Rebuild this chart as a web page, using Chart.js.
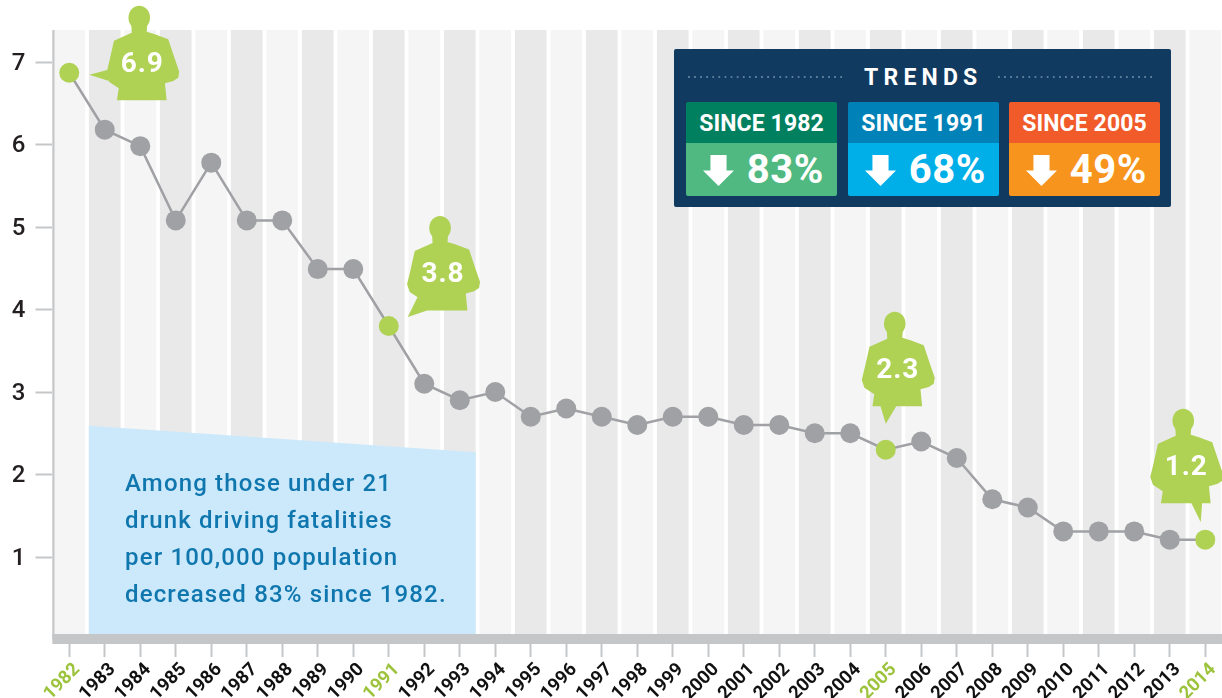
<!DOCTYPE html>
<html>
<head>
<meta charset="utf-8">
<title>Under 21 drunk driving fatalities</title>
<script src="https://cdn.jsdelivr.net/npm/chart.js@4"></script>
<style>
    html, body { margin: 0; padding: 0; background: #fff; overflow: hidden; width: 1222px; height: 698px; }
    body { position: relative; font-family: Roboto, sans-serif; }
    canvas { position: absolute; left: 0; top: 0; }

    .note { position: absolute; left: 125px; top: 465px; color: #0f76ae; font-size: 24px; font-weight: 500; letter-spacing: 1.15px; line-height: 37px; white-space: nowrap; }

    .panel { position: absolute; left: 674px; top: 49px; width: 497px; height: 158px; background: #103a60; border-radius: 2px; }
    .panel-title { position: absolute; left: 190px; width: 114px; top: 14px; color: #fff; font-size: 23px; font-weight: 700; letter-spacing: 5.2px; line-height: 30px; white-space: nowrap; }
    .dots { position: absolute; top: 27px; width: 158px; height: 2px; background: radial-gradient(circle at 1px 1px, #5d7f9c 1px, transparent 1.2px) 0 0 / 6.1px 2px repeat-x; }
    .trend { position: absolute; top: 53px; width: 151px; height: 94px; border-radius: 2px; color: #fff; }
    .trend-head { height: 41px; line-height: 43px; text-align: center; font-size: 23px; font-weight: 700; letter-spacing: 0.1px; border-radius: 2px 2px 0 0; }
    .trend-body { position: relative; height: 53px; border-radius: 0 0 2px 2px; }
    .trend-body b { position: absolute; right: 13px; top: 4px; font-size: 40px; line-height: 46px; font-weight: 700; letter-spacing: 0.6px; }
    .arrow { position: absolute; left: 17px; top: 12px; width: 31px; height: 31px; background: #fff; clip-path: polygon(24% 0, 76% 0, 76% 50%, 100% 50%, 50% 100%, 0 50%, 24% 50%); }
</style>
</head>
<body>
<canvas id="chart" width="1223" height="698"></canvas>

<div class="note">Among those under 21<br>drunk driving fatalities<br>per 100,000 population<br>decreased 83% since 1982.</div>

<div class="panel">
    <div class="dots" style="left:14px"></div>
    <div class="panel-title">TRENDS</div>
    <div class="dots" style="left:324px"></div>
    <div class="trend" style="left:12px">
        <div class="trend-head" style="background:#00805f">SINCE 1982</div>
        <div class="trend-body" style="background:#50b981"><span class="arrow"></span><b>83%</b></div>
    </div>
    <div class="trend" style="left:174px">
        <div class="trend-head" style="background:#0082b8">SINCE 1991</div>
        <div class="trend-body" style="background:#00aee8"><span class="arrow"></span><b>68%</b></div>
    </div>
    <div class="trend" style="left:335px">
        <div class="trend-head" style="background:#f15a29">SINCE 2005</div>
        <div class="trend-body" style="background:#f7941e"><span class="arrow"></span><b>49%</b></div>
    </div>
</div>

<script>
// Data
const years = ['1982', '1983', '1984', '1985', '1986', '1987', '1988', '1989', '1990', '1991', '1992',
    '1993', '1994', '1995', '1996', '1997', '1998', '1999', '2000', '2001', '2002', '2003', '2004',
    '2005', '2006', '2007', '2008', '2009', '2010', '2011', '2012', '2013', '2014'];
const fatalities = [6.87, 6.18, 5.98, 5.08, 5.78, 5.08, 5.08, 4.49, 4.49, 3.8, 3.1,
    2.9, 3.0, 2.7, 2.8, 2.7, 2.6, 2.7, 2.7, 2.6, 2.6, 2.5, 2.5,
    2.3, 2.4, 2.2, 1.7, 1.6, 1.31, 1.31, 1.31, 1.21, 1.21];
const yTicks = [1, 2, 3, 4, 5, 6, 7];
const highlightYears = ['1982', '1991', '2005', '2014'];
const highlightLabels = ['6.9', '3.8', '2.3', '1.2'];

const Y_TOP = 7.388;
const bandTops = years.map(() => Y_TOP);

// Colours
const GREY = '#a0a1a5';
const GREEN = '#afd255';
const AXIS = '#c5c6c8';

// Where each silhouette sits relative to its point, and where its tail meets the body
const figures = [
    { dx: 70, dy: -65, tip: [20, 2], base: [[-31, 62], [-31, 73]] },
    { dx: 51.3, dy: -108, tip: [19, -9], base: [[-22, 78], [-13, 92.5]] },
    { dx: 9, dy: -136, tip: [0, -26], base: [[-15, 90], [3, 90]] },
    { dx: -22, dy: -129, tip: [-4.5, -17.5], base: [[7, 90], [19, 90]] }
];

// Body outline, measured from the top centre of the head
const bodyOutline = [[8, 16], [7.5, 24], [15.7, 26.6], [29, 31.6], [35.7, 51.6], [40, 64], [39, 70], [34, 73.3],
    [25.7, 75.6], [27.4, 92.6], [-22.3, 92.6], [-20.5, 80.6], [-30.3, 74], [-33, 66.3], [-29.6, 52.3],
    [-25.3, 33], [-7.5, 25], [-8, 16]];

function drawFigure(ctx, px, py, fig, label) {
    const x = px + fig.dx;
    const y = py + fig.dy;
    ctx.save();
    ctx.fillStyle = GREEN;

    // head
    ctx.beginPath();
    ctx.ellipse(x, y + 10, 10.8, 12, 0, 0, Math.PI * 2);
    ctx.fill();

    // body
    ctx.beginPath();
    bodyOutline.forEach((p, i) => {
        if (i === 0) ctx.moveTo(x + p[0], y + p[1]);
        else ctx.lineTo(x + p[0], y + p[1]);
    });
    ctx.closePath();
    ctx.fill();

    // tail pointing at the data point
    ctx.beginPath();
    ctx.moveTo(x + fig.base[0][0], y + fig.base[0][1]);
    ctx.lineTo(px + fig.tip[0], py + fig.tip[1]);
    ctx.lineTo(x + fig.base[1][0], y + fig.base[1][1]);
    ctx.closePath();
    ctx.fill();

    ctx.fillStyle = '#fff';
    ctx.font = '700 28px Roboto';
    ctx.letterSpacing = '1px';
    ctx.textAlign = 'center';
    ctx.textBaseline = 'middle';
    ctx.fillText(label, x + 3, y + 57);
    ctx.restore();
}

// Light blue note shape, drawn right after the bands
const noteShapePlugin = {
    id: 'noteShape',
    afterDatasetDraw(chart, args) {
        if (args.index !== 1) return;
        const { ctx, scales: { x, y } } = chart;
        const left = x.getPixelForValue(1) - 16;
        const right = x.getPixelForValue(11) + 16;
        ctx.save();
        ctx.fillStyle = '#cbe9fb';
        ctx.beginPath();
        ctx.moveTo(left, y.getPixelForValue(2.59));
        ctx.lineTo(right, y.getPixelForValue(2.27));
        ctx.lineTo(right, y.getPixelForValue(0));
        ctx.lineTo(left, y.getPixelForValue(0));
        ctx.closePath();
        ctx.fill();
        ctx.restore();
    }
};

// Thick base band and thin left rule of the axes
const axisLinesPlugin = {
    id: 'axisLines',
    afterDatasetsDraw(chart) {
        const { ctx, chartArea: { left, right, top, bottom } } = chart;
        ctx.save();
        ctx.fillStyle = AXIS;
        ctx.fillRect(left + 0.8, top, 2.2, bottom - top);
        ctx.fillRect(left + 0.8, bottom - 5.5, right - left, 10);
        ctx.restore();
    }
};

const figuresPlugin = {
    id: 'figures',
    afterDatasetsDraw(chart) {
        const { ctx, scales: { x, y } } = chart;
        highlightYears.forEach((year, i) => {
            const idx = years.indexOf(year);
            drawFigure(ctx, x.getPixelForValue(idx), y.getPixelForValue(fatalities[idx]), figures[i], highlightLabels[i]);
        });
    }
};

new Chart(document.getElementById('chart').getContext('2d'), {
    data: {
        labels: years,
        datasets: [
            {
                type: 'line',
                data: fatalities,
                order: 0,
                borderColor: GREY,
                borderWidth: 2.5,
                tension: 0,
                pointRadius: 10,
                pointHoverRadius: 10,
                pointBorderWidth: 0,
                pointBackgroundColor: ctx => highlightYears.includes(years[ctx.dataIndex]) ? GREEN : GREY
            },
            {
                type: 'bar',
                data: bandTops,
                order: 1,
                barPercentage: 0.893,
                categoryPercentage: 1,
                backgroundColor: ctx => ctx.dataIndex % 2 === 0 ? '#f5f5f5' : '#e9e9ea'
            }
        ]
    },
    options: {
        responsive: false,
        animation: false,
        events: [],
        layout: { autoPadding: false, padding: { top: 30 } },
        plugins: { legend: { display: false }, tooltip: { enabled: false } },
        scales: {
            x: {
                z: 1,
                offset: true,
                afterFit: axis => {
                    axis.height = 58.5;
                    axis.paddingLeft = 0;
                    axis.paddingRight = 0;
                },
                border: { display: false },
                grid: { drawOnChartArea: false, offset: false, color: AXIS, tickColor: AXIS, tickWidth: 2, tickLength: 17.5 },
                ticks: {
                    autoSkip: false,
                    minRotation: 45,
                    maxRotation: 45,
                    padding: 2,
                    labelOffset: 8,
                    color: ctx => highlightYears.includes(years[ctx.index]) ? '#9dc33c' : '#111',
                    font: { family: 'Roboto', size: 18.5, weight: '700' }
                }
            },
            y: {
                z: 1,
                min: 0,
                max: Y_TOP,
                afterFit: axis => { axis.width = 51.5; },
                afterBuildTicks: axis => { axis.ticks = yTicks.map(v => ({ value: v })); },
                border: { display: false },
                grid: { drawOnChartArea: false, color: AXIS, tickColor: AXIS, tickWidth: 2, tickLength: 16 },
                ticks: {
                    padding: 10,
                    labelOffset: 1.5,
                    color: '#231f20',
                    font: { family: 'Roboto', size: 24, weight: '500' }
                }
            }
        }
    },
    plugins: [noteShapePlugin, axisLinesPlugin, figuresPlugin]
});
</script>
</body>
</html>
